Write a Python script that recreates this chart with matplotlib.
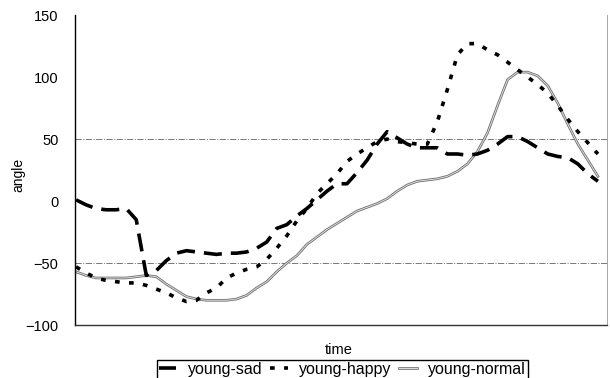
import numpy as np
import matplotlib.pyplot as plt
import matplotlib.patheffects as pe

plt.rcParams['font.family'] = ['Liberation Sans', 'DejaVu Sans']

# ---- data (one sample every ~10 px along time) ----
young_sad = [1, -3, -6, -7, -7, -6, -15, -60, -56, -48,
             -42, -40, -41, -42, -43, -42, -42, -41, -38, -33,
             -22, -19, -12, -6, 1, 8, 14, 14, 23, 33,
             46, 56, 51, 46, 43, 43, 43, 38, 38, 37,
             38, 41, 46, 52, 52, 48, 43, 38, 36, 35,
             30, 22, 16]
young_happy = [-53, -58, -62, -64, -65, -66, -66, -68, -71, -74,
               -78, -81, -80, -74, -70, -62, -58, -55, -53, -47,
               -38, -28, -16, -6, 6, 14, 22, 32, 38, 43,
               48, 50, 48, 47, 46, 46, 64, 90, 118, 127,
               127, 122, 118, 112, 106, 100, 94, 87, 77, 66,
               56, 47, 38]
young_normal = [-57, -60, -62, -62, -62, -62, -61, -60, -61, -67,
                -72, -77, -79, -80, -80, -80, -79, -76, -70, -65,
                -57, -50, -44, -35, -29, -23, -18, -13, -8, -5,
                -2, 2, 8, 13, 16, 17, 18, 20, 24, 30,
                40, 55, 77, 98, 104, 104, 101, 93, 79, 62,
                46, 33, 20]
series_names = ['young-sad', 'young-happy', 'young-normal']
y_ticks = [-100, -50, 0, 50, 100, 150]

t = np.arange(len(young_sad))

fig = plt.figure(figsize=(6.10, 3.78), dpi=100)
ax = fig.add_axes([0.123, 0.140, 0.872, 0.820])

# ---- gridlines only at +/-50 ----
for yv in (50, -50):
    ax.axhline(yv, color='#777777', lw=0.7, ls='-.', zorder=1)

ax.plot(t, young_sad, color='black', lw=2.6, dashes=(5, 2.5),
        label=series_names[0], zorder=3)
ax.plot(t, young_happy, color='black', lw=2.6, dashes=(1.3, 2.6),
        label=series_names[1], zorder=3)
ax.plot(t, young_normal, color='#dddddd', lw=0.7, label=series_names[2], zorder=2,
        path_effects=[pe.Stroke(linewidth=1.9, foreground='#6e6e6e'), pe.Normal()])

ax.set_xlim(-0.1, 52.9)
ax.set_ylim(-100, 150)
ax.set_yticks(y_ticks)
ax.tick_params(axis='y', length=0, pad=12, labelsize=10.5)
ax.set_xticks([])

ax.spines['top'].set_visible(False)
ax.spines['right'].set_color('#999999')
ax.spines['right'].set_linewidth(0.6)
ax.spines['left'].set_linewidth(1.0)
ax.spines['bottom'].set_color('#333333')
ax.spines['bottom'].set_linewidth(1.0)

fig.text(18/610, 1 - 175/378, 'angle', rotation=90, ha='center', va='center', fontsize=10)
fig.text(0.556, 0.075, 'time', ha='center', va='center', fontsize=10.5)

fig.legend(loc='upper left', bbox_to_anchor=(157/610, 1 - 360/378), ncol=3,
           frameon=True, fancybox=False, edgecolor='black', framealpha=1,
           fontsize=11.5, handlelength=1.1, handletextpad=0.7, columnspacing=0.5,
           borderpad=0.12, borderaxespad=0)

fig.savefig('out.png', dpi=100)
